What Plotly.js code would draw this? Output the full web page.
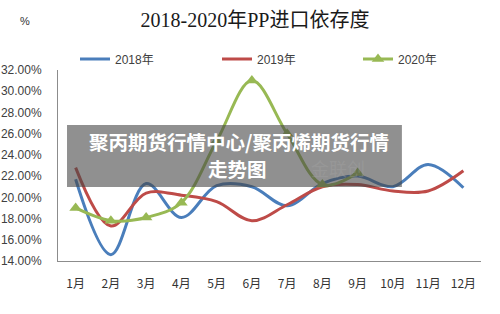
<!DOCTYPE html>
<html>
<head>
<meta charset="utf-8">
<script src="https://cdn.plot.ly/plotly-3.0.1.min.js"></script>
<style>html,body{margin:0;padding:0;background:#fff;}#chart{width:500px;height:314px;}</style>
</head>
<body>
<div id="chart"></div>
<script>
var months = ['1月','2月','3月','4月','5月','6月','7月','8月','9月','10月','11月','12月'];
var y2018 = [21.7, 14.6, 21.3, 18.1, 21.1, 21.0, 19.2, 21.3, 22.0, 21.0, 23.1, 20.9];
var y2019 = [22.8, 17.3, 20.4, 20.2, 19.6, 17.8, 19.3, 21.0, 21.2, 20.6, 20.6, 22.5];
var y2020 = [19.0, 17.8, 18.1, 19.5, 25.3, 31.0, 26.0, 21.2, 22.3];
var seriesNames = ['2018年', '2019年', '2020年'];
var yTicks = [14, 16, 18, 20, 22, 24, 26, 28, 30, 32];
var yTickText = yTicks.map(function (v) { return v.toFixed(2) + '%'; });

var traces = [
  {x: months, y: y2018, name: seriesNames[0], type: 'scatter', mode: 'lines', legend: 'legend',
   line: {color: '#4A7EBB', width: 3, shape: 'spline', smoothing: 1}},
  {x: months, y: y2019, name: seriesNames[1], type: 'scatter', mode: 'lines', legend: 'legend2',
   line: {color: '#BE4B48', width: 3, shape: 'spline', smoothing: 1}},
  {x: months.slice(0, y2020.length), y: y2020, name: seriesNames[2], type: 'scatter', mode: 'lines+markers', legend: 'legend3',
   line: {color: '#98B954', width: 3, shape: 'spline', smoothing: 1},
   marker: {symbol: 'triangle-up', size: 11, color: '#98B954'}}
];

function legendAt(px) {
  return {orientation: 'h', x: (px - 58) / 423, xanchor: 'left', y: (261 - 59) / 191, yanchor: 'middle',
    font: {family: 'Liberation Sans, Noto Sans CJK SC, sans-serif', size: 12, color: '#404040'},
    bgcolor: 'rgba(0,0,0,0)'};
}

var layout = {
  width: 500, height: 314,
  margin: {l: 58, r: 19, t: 70, b: 53},
  paper_bgcolor: '#ffffff', plot_bgcolor: '#ffffff',
  font: {family: 'Liberation Sans, Noto Sans CJK SC, sans-serif', color: '#404040', size: 12},
  title: {text: '2018-2020年PP进口依存度', x: 0.51, xanchor: 'center', y: 0.935, yanchor: 'middle',
    font: {family: 'Liberation Serif, Noto Sans CJK SC, serif', size: 20, color: '#1a1a1a'}},
  xaxis: {type: 'category', showgrid: false, zeroline: false, showline: true, linecolor: '#8c8c8c', linewidth: 1,
    ticks: '', ticklabelstandoff: 12, range: [-0.5, 11.5],
    tickfont: {family: 'Noto Sans CJK SC, sans-serif', size: 12, color: '#333333'}},
  yaxis: {range: [14, 32], tickvals: yTicks, ticktext: yTickText, showgrid: false, zeroline: false,
    showline: true, linecolor: '#8c8c8c', linewidth: 1, ticks: '', ticklabelstandoff: 13,
    tickfont: {family: 'Liberation Sans, sans-serif', size: 12, color: '#404040'}},
  legend: legendAt(75),
  legend2: legendAt(217),
  legend3: legendAt(358),
  showlegend: true,
  shapes: [
    {type: 'rect', xref: 'paper', yref: 'paper', x0: 0.0213, x1: 0.813, y0: 0.387, y1: 0.712,
     fillcolor: 'rgba(70,70,70,0.6)', line: {width: 0}, layer: 'above'}
  ],
  annotations: [
    {text: '%', xref: 'paper', yref: 'paper', x: (25 - 58) / 423, y: (261 - 21) / 191,
     showarrow: false, xanchor: 'center', yanchor: 'middle',
     font: {family: 'Liberation Sans, sans-serif', size: 11, color: '#333333'}},
    {text: '金联创', xref: 'paper', yref: 'paper', x: (338 - 58) / 423, y: (261 - 168) / 191,
     showarrow: false, xanchor: 'center', yanchor: 'middle',
     font: {family: 'Noto Sans CJK SC, sans-serif', size: 18, color: 'rgba(170,170,170,0.3)'}},
    {text: '<b>聚丙期货行情中心/聚丙烯期货行情</b>', xref: 'paper', yref: 'paper', x: (239 - 58) / 423, y: (261 - 141) / 191,
     showarrow: false, xanchor: 'center', yanchor: 'middle',
     font: {family: 'Noto Sans CJK SC, sans-serif', size: 19.5, color: '#ffffff'}},
    {text: '<b>走势图</b>', xref: 'paper', yref: 'paper', x: (237 - 58) / 423, y: (261 - 168) / 191,
     showarrow: false, xanchor: 'center', yanchor: 'middle',
     font: {family: 'Noto Sans CJK SC, sans-serif', size: 19.5, color: '#ffffff'}}
  ]
};

Plotly.newPlot('chart', traces, layout, {displayModeBar: false, staticPlot: true});
</script>
</body>
</html>
